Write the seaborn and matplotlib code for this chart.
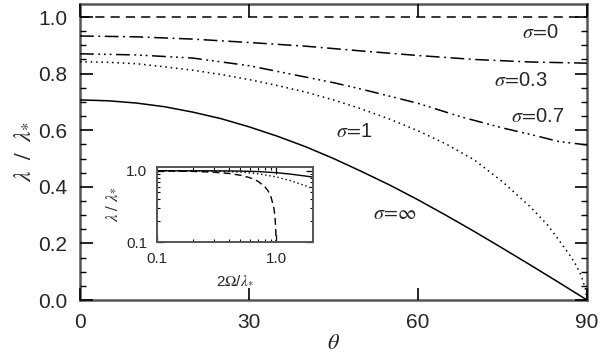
import numpy as np
import pandas as pd
import matplotlib
matplotlib.use("Agg")
import matplotlib.pyplot as plt
import seaborn as sns
from matplotlib.ticker import MultipleLocator, FixedLocator, NullFormatter, NullLocator

# ---------------- data ----------------
theta_s0 = [0, 90]
lam_s0 = [1.0, 1.0]

theta_s03 = [0, 10, 20, 30, 40, 50, 60, 70, 80, 90]
lam_s03 = [0.933, 0.930, 0.922, 0.910, 0.897, 0.880, 0.864, 0.850, 0.841, 0.837]

theta_s07 = [0, 10, 20, 30, 40, 45, 50, 60, 67.5, 75, 80, 85, 90]
lam_s07 = [0.870, 0.866, 0.855, 0.828, 0.788, 0.768, 0.745, 0.695, 0.648, 0.608, 0.585, 0.560, 0.548]

theta_s1 = [0, 5, 10, 15, 20, 25, 30, 35, 40, 45, 50, 55, 60, 65, 70, 75, 80, 83, 85, 87, 88, 89, 89.7, 90]
lam_s1 = [0.842, 0.840, 0.835, 0.824, 0.812, 0.797, 0.779, 0.758, 0.735, 0.707, 0.675, 0.639,
          0.598, 0.551, 0.495, 0.418, 0.328, 0.265, 0.212, 0.157, 0.125, 0.085, 0.040, 0.0]

theta_sinf = [0, 5, 10, 15, 20, 25, 30, 35, 40, 45, 50, 55, 60, 65, 70, 75, 80, 85, 90]
lam_sinf = [0.707, 0.704, 0.696, 0.683, 0.664, 0.641, 0.612, 0.579, 0.542, 0.500, 0.454,
            0.406, 0.354, 0.299, 0.242, 0.183, 0.123, 0.062, 0.0]

# inset
om_dash = [0.1, 0.2, 0.3, 0.4, 0.5, 0.6, 0.7, 0.8, 0.85, 0.9, 0.95, 0.97, 0.98, 0.99, 0.995]
lam_dash = [1.0, 0.98, 0.954, 0.917, 0.866, 0.80, 0.714, 0.60, 0.527, 0.436, 0.312, 0.243, 0.199, 0.141, 0.10]
om_dot = [0.1, 0.2, 0.3, 0.5, 0.7, 1.0, 1.3, 1.6, 2.0]
lam_dot = [1.0, 0.995, 0.99, 0.96, 0.91, 0.82, 0.73, 0.65, 0.57]
om_sol = [0.1, 0.2, 0.3, 0.5, 0.7, 1.0, 1.3, 1.6, 2.0]
lam_sol = [1.0, 1.0, 0.998, 0.99, 0.975, 0.94, 0.90, 0.86, 0.82]

labels = ["$\\sigma\\!=\\!$0", "$\\sigma\\!=\\!$0.3", "$\\sigma\\!=\\!$0.7", "$\\sigma\\!=\\!$1", "$\\sigma\\!=\\!\\infty$"]
label_pos = [(81.7, 0.947), (78.3, 0.777), (81.2, 0.647), (48.8, 0.594), (55.9, 0.307)]

# ---------------- style ----------------
sns.set_style("ticks")
plt.rcParams["font.family"] = ["Liberation Sans", "DejaVu Sans"]
plt.rcParams["mathtext.fontset"] = "stix"

fig = plt.figure(figsize=(6.0, 3.58), dpi=100)
ax = fig.add_axes([80 / 600, 58 / 358, 507 / 600, 296 / 358])

series = [
    (theta_s0, lam_s0, (0, (6, 4))),
    (theta_s03, lam_s03, (0, (9, 3, 1.2, 3))),
    (theta_s07, lam_s07, (0, (9, 3, 1.2, 2.5, 1.2, 2.5, 1.2, 3))),
    (theta_s1, lam_s1, (0, (1, 2.5))),
    (theta_sinf, lam_sinf, "-"),
]
for xs, ys, ls in series:
    df = pd.DataFrame({"theta": xs, "lam": ys})
    sns.lineplot(data=df, x="theta", y="lam", ax=ax, color="black", linewidth=1.1,
                 linestyle=ls, sort=False, estimator=None)

for txt, (tx, ty) in zip(labels, label_pos):
    ax.text(tx, ty, txt, fontsize=14.5, ha="center", va="center")

ax.set_xlim(0, 90)
ax.set_ylim(0, 1.046)
ax.xaxis.set_major_locator(FixedLocator([0, 30, 60, 90]))
ax.xaxis.set_minor_locator(NullLocator())
ax.yaxis.set_major_locator(FixedLocator([0.0, 0.2, 0.4, 0.6, 0.8, 1.0]))
ax.yaxis.set_minor_locator(MultipleLocator(0.05))
ax.set_yticklabels(["0.0", "0.2", "0.4", "0.6", "0.8", "1.0"])
ax.tick_params(which="both", direction="in", top=True, right=True, bottom=True, left=True,
               labelsize=15, color="black")
ax.tick_params(which="major", length=9, width=1.2, pad=9)
ax.tick_params(which="minor", length=4.5, width=1.0)
for sp in ax.spines.values():
    sp.set_linewidth(1.8)
    sp.set_color("#555555")
    sp.set_zorder(0.5)
ax.set_xlabel("$\\theta$", fontsize=16, labelpad=1)
ax.set_ylabel("$\\lambda\\ \\ /\\ \\ \\lambda_{*}$", fontsize=17, labelpad=4)

# ---------------- inset ----------------
ins = fig.add_axes([157 / 600, (358 - 242) / 358, 156 / 600, 75 / 358])
for xs, ys, ls in [(om_sol, lam_sol, "-"), (om_dot, lam_dot, (0, (1, 2))), (om_dash, lam_dash, (0, (5, 3)))]:
    df = pd.DataFrame({"om": xs, "lam": ys})
    sns.lineplot(data=df, x="om", y="lam", ax=ins, color="black", linewidth=1.0,
                 linestyle=ls, sort=False, estimator=None)
ins.set_xscale("log")
ins.set_yscale("log")
ins.set_xlim(0.1, 2.03)
ins.set_ylim(0.1, 1.13)
ins.xaxis.set_major_locator(FixedLocator([0.1, 1.0]))
ins.yaxis.set_major_locator(FixedLocator([0.1, 1.0]))
ins.xaxis.set_minor_locator(FixedLocator([0.2, 0.3, 0.4, 0.5, 0.6, 0.7, 0.8, 0.9, 2.0]))
ins.yaxis.set_minor_locator(FixedLocator([0.2, 0.3, 0.4, 0.5, 0.6, 0.7, 0.8, 0.9]))
ins.xaxis.set_minor_formatter(NullFormatter())
ins.yaxis.set_minor_formatter(NullFormatter())
ins.set_xticklabels(["0.1", "1.0"])
ins.set_yticklabels(["0.1", "1.0"])
ins.tick_params(which="both", direction="in", top=True, right=True, bottom=True, left=True,
                labelsize=11, color="black")
ins.tick_params(which="major", length=5, width=0.9, pad=7)
ins.tick_params(which="minor", length=2.5, width=0.8)
for sp in ins.spines.values():
    sp.set_linewidth(1.4)
    sp.set_color("#555555")
ins.set_xlabel("2$\\Omega$/$\\lambda_{*}$", fontsize=11, labelpad=5)
ins.set_ylabel("$\\lambda\\ /\\ \\lambda_{*}$", fontsize=12, labelpad=5)

fig.savefig("out.png", dpi=100)
